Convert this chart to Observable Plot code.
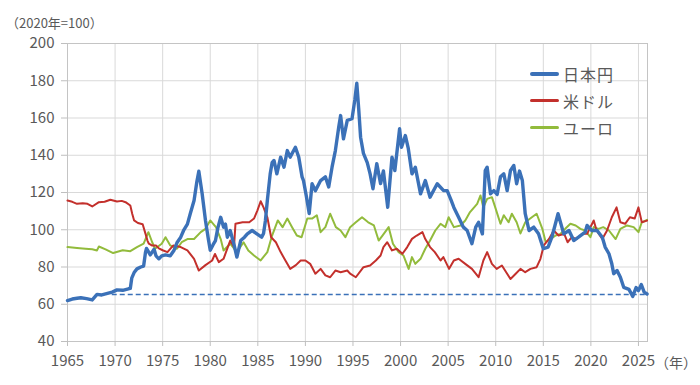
<!DOCTYPE html>
<html>
<head>
<meta charset="utf-8">
<script src="https://cdn.jsdelivr.net/npm/d3@7"></script>
<script src="https://cdn.jsdelivr.net/npm/@observablehq/plot@0.6"></script>
<style>
  html, body { margin: 0; padding: 0; background: #fff; }
  #wrap { position: relative; width: 700px; height: 385px; font-family: "Noto Sans CJK JP", "Noto Sans", sans-serif; color: #595959; }
  .ov { position: absolute; white-space: nowrap; line-height: 1; }
  .leg { position: absolute; left: 530px; top: 60px; }
  .row { display: flex; align-items: center; height: 27px; font-size: 16px; letter-spacing: 1px; }
  .sw { width: 29px; margin-right: 4px; border-radius: 2px; }
</style>
</head>
<body>
<div id="wrap">
  <div id="chart"></div>
</div>
<script>
// ---- data ----
const seriesNames = ["日本円", "米ドル", "ユーロ"];
const seriesColors = ["#3b71b8", "#c3302c", "#92bb3c"];
const seriesWidths = [3.4, 2, 2];

const jpyYears = [1965.0,1965.5,1966.0,1966.4,1967.0,1967.6,1968.1,1968.6,1969.2,1969.7,1970.2,1970.8,1971.4,1971.6,1971.75,1972.0,1972.3,1972.7,1973.0,1973.2,1973.3,1973.7,1974.1,1974.3,1974.6,1974.9,1975.3,1975.8,1976.2,1976.5,1976.9,1977.2,1977.6,1977.9,1978.3,1978.6,1978.8,1979.15,1979.5,1979.8,1980.0,1980.3,1980.55,1980.8,1981.1,1981.4,1981.6,1981.8,1982.1,1982.5,1982.8,1983.2,1983.6,1983.9,1984.4,1984.9,1985.4,1985.6,1985.8,1986.0,1986.3,1986.5,1986.7,1987.0,1987.4,1987.75,1988.1,1988.4,1988.95,1989.3,1989.65,1989.8,1990.1,1990.4,1990.7,1991.05,1991.6,1992.1,1992.45,1992.8,1993.15,1993.5,1993.7,1994.0,1994.4,1994.9,1995.2,1995.4,1995.6,1995.8,1996.1,1996.5,1996.8,1997.1,1997.5,1997.9,1998.2,1998.65,1999.1,1999.4,1999.9,2000.1,2000.5,2000.8,2001.2,2001.55,2002.1,2002.6,2003.1,2003.85,2004.5,2004.9,2005.3,2005.6,2006.1,2006.6,2007.0,2007.5,2007.9,2008.2,2008.6,2008.9,2009.1,2009.45,2009.8,2010.15,2010.5,2010.85,2011.2,2011.55,2011.9,2012.2,2012.5,2012.8,2013.1,2013.5,2014.0,2014.5,2015.0,2015.5,2015.9,2016.55,2017.15,2017.7,2018.2,2018.7,2019.4,2019.6,2020.1,2020.65,2021.2,2021.5,2021.9,2022.2,2022.4,2022.75,2023.1,2023.45,2024.0,2024.4,2024.75,2025.0,2025.3,2025.6,2025.9];
const jpyValues = [62,62.8,63.2,63.5,63,62.3,65.3,65,65.8,66.5,67.7,67.5,68.3,68.5,74,77,79,80,80.5,88,90,86.5,89.5,86,84.4,86,86.5,86,89,93,96,99.6,103,108.6,115.7,126,131.4,119.3,105,95,89,92,94.2,101,106.7,101.4,103,96,99.6,92,85.3,94.2,96,97.8,99.6,97.8,96,98,105,115.7,130,136,137.2,130,139,133.6,142.5,139,144.3,139,128.4,126.4,118,108.7,124.7,121,126.4,128.4,123,133.6,142.5,155,161.3,148.8,158.7,159.6,170,178.7,165,149.7,141,136,130,122,135.5,124.8,131.6,112.1,139,131.8,154.2,144.3,150.6,144,130,133.6,119.3,126.4,117.5,124.7,121.1,121,116,112,106.7,101.4,99.6,92.5,101.4,104,97.8,131.8,133.6,119.3,121,119,128.4,130,121,131.8,134.5,124.7,131.5,126.4,108.6,99.6,101.4,97.8,89.8,90.7,96,108.6,97.8,99.6,94.2,96,98.7,102.3,99.6,99.6,96,90.7,87.1,81.7,76.4,78.1,74.5,69.1,68,64.2,69,67.3,70.6,66.5,65.5];

const usdYears = [1965.0,1965.5,1966.0,1966.6,1967.1,1967.6,1968.3,1968.9,1969.5,1970.2,1970.7,1971.1,1971.6,1971.8,1972.0,1972.4,1972.9,1973.2,1973.4,1973.55,1973.9,1974.3,1974.6,1975.0,1975.5,1976.1,1976.9,1977.6,1978.3,1978.8,1979.5,1980.2,1980.5,1980.9,1981.4,1981.8,1982.1,1982.5,1982.65,1983.4,1984.1,1984.6,1984.95,1985.3,1985.6,1986.0,1986.4,1986.9,1987.4,1987.9,1988.4,1989.0,1989.5,1990.0,1990.5,1991.05,1991.6,1992.1,1992.6,1993.15,1993.7,1994.4,1994.7,1995.3,1996.1,1996.8,1997.4,1997.9,1998.2,1998.6,1999.1,1999.6,2000.2,2000.7,2001.2,2001.7,2002.3,2002.6,2003.1,2003.6,2004.2,2004.5,2005.1,2005.6,2006.1,2006.8,2007.5,2008.2,2008.7,2009.1,2009.6,2010.1,2010.65,2011.2,2011.55,2012.1,2012.6,2013.1,2013.65,2014.3,2014.7,2015.05,2015.6,2016.1,2016.6,2017.2,2017.55,2018.0,2018.5,2019.1,2019.6,2020.3,2020.6,2021.2,2021.7,2022.2,2022.7,2023.1,2023.6,2024.1,2024.6,2025.0,2025.35,2025.9];
const usdValues = [115.7,115,113.9,114.2,113.9,112.5,114.8,115,116.1,115.2,115.5,114.8,113,108.6,105,103.6,103,97.8,94.2,92.5,91.5,91.5,90,89,88,91.5,90.7,88.9,84.4,78.1,81,83.5,87,82.6,84.4,90,94.2,90.7,103.2,104,104,106,110.3,115.3,112,106.7,96,93.3,88,83.5,79,81,83.5,83.5,81.7,76.4,79,75.5,74.5,78.1,77.2,78.1,76.4,74.5,79.9,80.8,83.5,86.2,90.7,93.3,88.9,89.8,87.1,90.7,95.1,96.9,98.7,95,90.7,88,83.5,85.3,79,83.5,84.4,81.7,79,74.5,83.5,88,81.7,79,80.8,76.4,73.6,76.4,79,77.2,79,79.9,84.4,91.6,95.1,99.6,96.9,97.8,93.3,96,95,97.8,97.8,105,99.6,95,99.6,106.7,112,104,103.2,106.7,106,112,104,104.9];

const eurYears = [1965.0,1966.0,1966.9,1967.6,1968.1,1968.3,1969.0,1969.8,1970.8,1971.6,1972.3,1973.0,1973.5,1973.9,1974.2,1974.9,1975.3,1975.8,1976.5,1977.0,1977.6,1978.3,1979.0,1979.5,1980.0,1980.6,1981.1,1981.4,1982.1,1982.8,1983.5,1984.0,1984.6,1985.3,1986.0,1986.5,1987.1,1987.6,1988.1,1988.6,1989.1,1989.6,1990.2,1990.7,1991.2,1991.6,1992.1,1992.6,1993.2,1993.7,1994.2,1994.7,1995.3,1995.95,1996.6,1997.2,1997.7,1998.1,1998.75,1999.2,1999.8,2000.3,2000.85,2001.2,2001.55,2002.1,2002.6,2003.1,2003.65,2004.2,2004.7,2005.05,2005.6,2006.3,2006.8,2007.3,2008.05,2008.4,2008.7,2009.1,2009.6,2009.95,2010.5,2010.85,2011.35,2011.7,2012.2,2012.6,2013.1,2013.8,2014.3,2014.9,2015.25,2015.75,2016.3,2016.8,2017.3,2017.85,2018.4,2018.9,2019.4,2019.95,2020.3,2020.8,2021.3,2021.9,2022.6,2023.1,2023.8,2024.5,2025.0,2025.35,2025.9];
const eurValues = [90.7,90.2,89.8,89.5,88.9,91,89.5,87.5,89,88.5,90.7,92.5,98.7,93.3,89.8,92.5,96,91.6,89.8,93.3,95,95,98.7,100.5,105,101.4,95,88.9,92.5,88,93.3,88.9,86.2,83.5,88,96.9,105,101.4,106,101.4,96.9,96,106,106,107.8,98.7,101.4,108.6,101.4,99.6,96,101.4,104,106.7,104,102.3,94.2,96.9,101.4,92.5,88,86.2,79,85.3,81.7,84.4,89.8,94.2,99.6,103.2,101.4,106.7,101.4,102.3,105,109.5,113.9,118.4,112,116.6,117.5,112,103.2,107.8,104,108.6,104,98,104,106.7,108.6,100.5,93.3,95,96.9,97.8,100.5,103.2,102.3,100.5,99.6,96,101.4,100.5,101.4,99.6,95,100.5,102.3,101.4,98.7,104,105.3];

const levelValue = 65.2;      // current JPY level (dashed reference)
const levelStart = 1969.7;
const xDomain = [1965, 2025.95];
const yDomain = [40, 200];
const xTicks = [1965,1970,1975,1980,1985,1990,1995,2000,2005,2010,2015,2020,2025];
const yTicks = [40,60,80,100,120,140,160,180,200];
const yTitle = "（2020年=100）";
const xUnit = "（年）";

// ---- build rows ----
function rows(years, values, name) { return years.map((y, i) => ({year: y, value: values[i], name})); }
const series = [
  rows(jpyYears, jpyValues, seriesNames[0]),
  rows(usdYears, usdValues, seriesNames[1]),
  rows(eurYears, eurValues, seriesNames[2])
];

const chart = Plot.plot({
  width: 700, height: 385,
  marginLeft: 67, marginRight: 53, marginTop: 43, marginBottom: 44,
  style: {fontFamily: '"Noto Sans CJK JP", "Noto Sans", sans-serif', fontSize: "15px", color: "#595959", background: "#fff"},
  x: {domain: xDomain, label: null},
  y: {domain: yDomain, label: null},
  marks: [
    Plot.gridX(xTicks, {stroke: "#d9d9d9", strokeOpacity: 1, strokeWidth: 1}),
    Plot.gridY(yTicks, {stroke: "#d9d9d9", strokeOpacity: 1, strokeWidth: 1}),
    Plot.frame({stroke: "#c4c4c4"}),
    Plot.axisX(xTicks, {tickSize: 5, tickPadding: 9, stroke: "#bfbfbf", fill: "#595959", fontSize: 15, tickFormat: d => String(d), label: null}),
    Plot.axisY(yTicks, {tickSize: 6, tickPadding: 7, stroke: "#bfbfbf", fill: "#595959", fontSize: 15, label: null}),
    Plot.ruleY([levelValue], {x1: levelStart, x2: xDomain[1], stroke: seriesColors[0], strokeWidth: 1.5, strokeDasharray: "5,3"}),
    Plot.line(series[2], {x: "year", y: "value", stroke: seriesColors[2], strokeWidth: seriesWidths[2]}),
    Plot.line(series[1], {x: "year", y: "value", stroke: seriesColors[1], strokeWidth: seriesWidths[1]}),
    Plot.line(series[0], {x: "year", y: "value", stroke: seriesColors[0], strokeWidth: seriesWidths[0]})
  ]
});
document.getElementById("chart").appendChild(chart);

// overlay texts
const wrap = document.getElementById("wrap");
const t = document.createElement("div");
t.className = "ov"; t.textContent = yTitle;
t.style.cssText = "left:6px;top:16px;font-size:13px;";
wrap.appendChild(t);
const u = document.createElement("div");
u.className = "ov"; u.textContent = xUnit;
u.style.cssText = "left:655px;top:355px;font-size:14px;";
wrap.appendChild(u);

// legend
const leg = document.createElement("div");
leg.className = "leg";
seriesNames.forEach((n, i) => {
  const r = document.createElement("div"); r.className = "row";
  const s = document.createElement("span"); s.className = "sw";
  s.style.height = (i === 0 ? 4 : 2.5) + "px"; s.style.background = seriesColors[i];
  const l = document.createElement("span"); l.textContent = n;
  r.appendChild(s); r.appendChild(l); leg.appendChild(r);
});
wrap.appendChild(leg);
</script>
</body>
</html>
